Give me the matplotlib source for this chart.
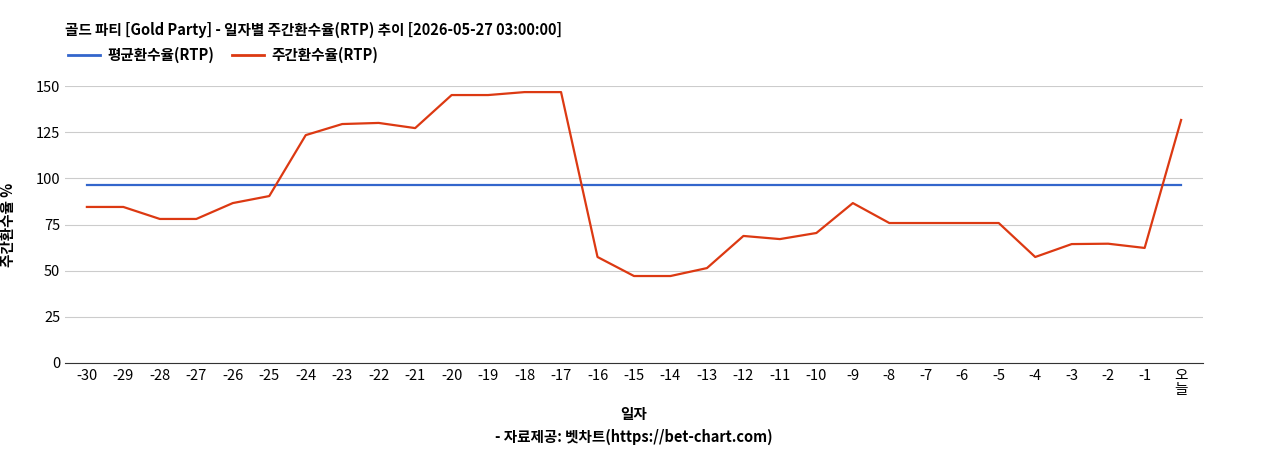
import matplotlib
matplotlib.use("Agg")
import matplotlib.pyplot as plt
from matplotlib.lines import Line2D

plt.rcParams['font.family'] = ['Noto Sans CJK KR', 'DejaVu Sans']

labels = [str(i) for i in range(-30, 0)] + ["오\n늘"]
rtp = [84.5, 84.5, 78, 78, 86.6, 90.4, 123.4, 129.4, 130, 127.2, 145.1, 145.1, 146.7, 146.7,
       57.4, 47.1, 47.1, 51.4, 68.8, 67.1, 70.4, 86.6, 75.8, 75.8, 75.8, 75.8, 57.4, 64.4, 64.6,
       62.3, 131.6]
avg = [96.4] * len(labels)

fig = plt.figure(figsize=(12.68, 4.5), dpi=100)
ax = fig.add_axes([65/1268, 1-363/450, (1203-65)/1268, (363-86)/450])
x = list(range(len(labels)))
ax.plot(x, avg, color='#3366cc', lw=1.6)
ax.plot(x, rtp, color='#dc3912', lw=1.6)
ax.set_xlim(-0.6, len(labels)-0.4)
ax.set_ylim(0, 150)
ax.set_yticks([0, 25, 50, 75, 100, 125, 150])
ax.set_xticks(x)
ax.set_xticklabels(labels, fontsize=10.5, linespacing=1.0)
ax.tick_params(axis='y', labelsize=10.5, length=0)
ax.tick_params(axis='x', length=0, pad=4)
ax.grid(axis='y', color='#cccccc', lw=0.8)
for s in ['top', 'right', 'left']:
    ax.spines[s].set_visible(False)
ax.spines['bottom'].set_color('#333333')
ax.set_axisbelow(True)
ax.set_ylabel('주간환수율 %', fontsize=10.5, fontweight='bold', labelpad=14)

fig.text(65/1268, 1-30/450, '골드 파티 [Gold Party] - 일자별 주간환수율(RTP) 추이 [2026-05-27 03:00:00]',
         fontsize=10.5, fontweight='bold', va='center')
handles = [Line2D([], [], color='#3366cc', lw=2), Line2D([], [], color='#dc3912', lw=2)]
fig.legend(handles, ['평균환수율(RTP)', '주간환수율(RTP)'], loc='center left',
           bbox_to_anchor=(55/1268, 1-55/450), ncol=2, frameon=False, fontsize=10.5,
           handlelength=2.2, columnspacing=1.2, handletextpad=0.5, prop={'weight': 'bold', 'size': 10.5})
fig.text((65+1203)/2/1268, 1-414/450, '일자', ha='center', va='center', fontsize=10.5, fontweight='bold')
fig.text((65+1203)/2/1268, 1-437/450, '- 자료제공: 벳차트(https://bet-chart.com)', ha='center', va='center',
         fontsize=10.5, fontweight='bold')
fig.savefig('out.png', dpi=100)
